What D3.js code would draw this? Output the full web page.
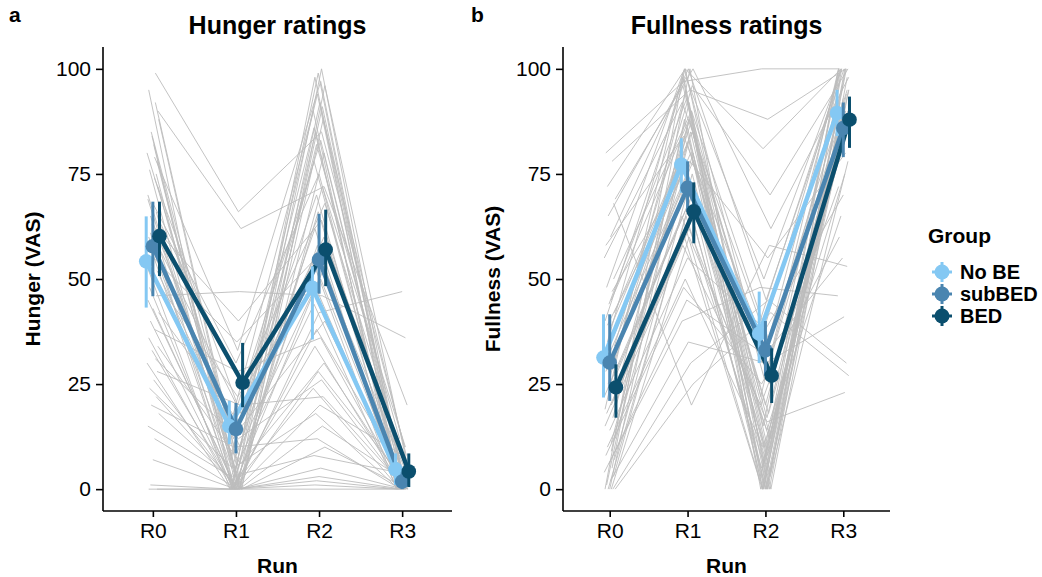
<!DOCTYPE html>
<html>
<head>
<meta charset="utf-8">
<script src="https://cdn.jsdelivr.net/npm/d3@7.9.0/dist/d3.min.js"></script>
<style>
  body { margin: 0; background: #fff; }
  svg text { font-family: "Liberation Sans", Arial, Helvetica, sans-serif; fill: #000; }
</style>
</head>
<body>
<svg id="chart" width="1042" height="577"></svg>
<script>
// Runs (x categories) and groups
const runs = ['R0', 'R1', 'R2', 'R3'];
const groups = ['No BE', 'subBED', 'BED'];
const groupColors = ['#84C8F3', '#4A85B0', '#0B4F6E'];
const yTicks = [0, 25, 50, 75, 100];

// Group means and error bar ranges, hunger (per run: R0..R3)
const hungerMean = {
  'No BE':  [54.2, 15.0, 47.9, 4.7],
  'subBED': [57.8, 14.3, 54.6, 1.8],
  'BED':    [60.2, 25.3, 57.0, 4.2]
};
const hungerLow = {
  'No BE':  [43.2, 10.7, 35.6, 1.0],
  'subBED': [45.9, 8.5, 46.5, 0.0],
  'BED':    [50.7, 19.5, 48.3, 0.5]
};
const hungerHigh = {
  'No BE':  [64.9, 21.0, 53.0, 8.5],
  'subBED': [68.4, 20.5, 65.5, 4.0],
  'BED':    [68.4, 34.8, 66.5, 8.5]
};

// Group means and error bar ranges, fullness
const fullMean = {
  'No BE':  [31.3, 77.2, 37.0, 89.5],
  'subBED': [30.1, 71.7, 33.0, 85.9],
  'BED':    [24.2, 66.1, 27.0, 87.9]
};
const fullLow = {
  'No BE':  [21.8, 70.5, 30.0, 84.0],
  'subBED': [21.0, 66.0, 27.0, 79.0],
  'BED':    [17.0, 58.5, 20.5, 81.2]
};
const fullHigh = {
  'No BE':  [41.6, 83.5, 47.0, 95.0],
  'subBED': [41.6, 78.0, 40.0, 92.0],
  'BED':    [29.7, 73.0, 33.5, 93.4]
};

// Individual participants (R0, R1, R2, R3)
const hungerSubjects = [
  [95, 0, 98, 2], [92, 5, 100, 0], [88, 0, 96, 5], [85, 10, 94, 0], [82, 0, 92, 3],
  [80, 15, 90, 0], [78, 0, 88, 8], [76, 2, 85, 0], [74, 20, 83, 2], [72, 0, 80, 0],
  [70, 8, 78, 5], [68, 30, 75, 0], [66, 0, 72, 10], [65, 12, 70, 0], [64, 25, 68, 3],
  [63, 0, 66, 0], [62, 40, 64, 2], [60, 5, 62, 0], [58, 18, 60, 6], [57, 0, 58, 0],
  [55, 35, 56, 1], [53, 0, 54, 0], [52, 10, 52, 4], [50, 22, 50, 0], [48, 0, 48, 2],
  [46, 47, 46, 36], [45, 3, 44, 0], [43, 0, 42, 47], [42, 15, 40, 0], [40, 0, 38, 5],
  [38, 28, 36, 0], [36, 0, 34, 2], [34, 6, 30, 0], [33, 0, 28, 3], [31, 12, 26, 0],
  [30, 0, 24, 1], [28, 20, 22, 0], [26, 0, 20, 8], [24, 5, 18, 0], [22, 0, 15, 2],
  [20, 10, 12, 0], [18, 0, 10, 0], [15, 3, 8, 4], [12, 0, 5, 0], [7, 0, 3, 0],
  [1, 0, 2, 0], [0, 0, 0, 0], [0, 0, 1, 0], [99, 66, 85, 10], [90, 62, 72, 20],
  [84, 4, 99, 1], [75, 0, 91, 0], [69, 7, 86, 3], [79, 33, 97, 0], [61, 0, 82, 12]
];
const fullnessSubjects = [
  [80, 97, 100, 100], [78, 95, 88, 100], [69, 100, 62, 98], [65, 98, 50, 100], [60, 100, 45, 100],
  [55, 92, 40, 97], [50, 90, 35, 95], [48, 100, 30, 100], [45, 88, 28, 92], [42, 85, 25, 90],
  [40, 96, 22, 100], [38, 82, 20, 88], [36, 80, 18, 85], [35, 100, 15, 100], [33, 78, 12, 95],
  [32, 75, 10, 82], [30, 88, 8, 90], [28, 72, 5, 80], [27, 70, 3, 78], [25, 95, 0, 100],
  [24, 68, 0, 88], [22, 65, 2, 85], [21, 90, 0, 98], [20, 62, 14, 75], [18, 60, 0, 92],
  [17, 85, 6, 100], [15, 58, 20, 72], [14, 55, 38, 70], [12, 80, 0, 95], [10, 50, 10, 65],
  [9, 92, 0, 100], [8, 48, 25, 60], [7, 75, 4, 90], [6, 45, 32, 55], [5, 100, 0, 100],
  [4, 40, 48, 46], [3, 70, 12, 88], [2, 35, 30, 41], [1, 88, 0, 97], [0, 30, 45, 30],
  [0, 65, 6, 84], [0, 25, 42, 27], [0, 98, 0, 100], [0, 60, 16, 23], [0, 86, 0, 93],
  [72, 100, 81, 100], [68, 20, 58, 53], [58, 84, 36, 99], [47, 78, 55, 80], [34, 96, 70, 100],
  [44, 93, 26, 96], [29, 87, 9, 94], [19, 99, 3, 100], [11, 83, 17, 91], [39, 76, 0, 86]
];
// small horizontal jitter per participant (in run units)
const jitter = [
  -0.05, 0.03, 0.07, -0.02, 0.01, -0.07, 0.05, -0.04, 0.02, 0.06,
  -0.06, 0.00, 0.04, -0.03, 0.07, -0.01, 0.03, -0.05, 0.06, -0.02,
  0.01, -0.07, 0.05, 0.02, -0.04, 0.04, -0.06, 0.00, 0.07, -0.03,
  0.02, -0.05, 0.06, -0.01, 0.03, -0.07, 0.05, 0.01, -0.04, 0.04,
  -0.02, 0.07, -0.06, 0.02, 0.00, -0.03, 0.05, -0.05, 0.03, 0.06,
  -0.01, 0.04, -0.06, 0.02, -0.03
];

const svg = d3.select('#chart');
svg.append('rect').attr('width', 1042).attr('height', 577).attr('fill', '#fff');

const plotTop = 47, plotBottom = 511;
const y = d3.scaleLinear().domain([-5.2, 105.2]).range([plotBottom, plotTop]);
const dodge = [-0.08, 0, 0.08];

function drawPanel(opts) {
  const { left, right, title, tag, tagX, ylab, subjects, mean, low, high } = opts;
  const g = svg.append('g');
  // continuous x over band index with ggplot-like 0.6 expansion
  const x = d3.scaleLinear().domain([-0.6, 3.6]).range([left, right]);

  // individual lines
  const line = d3.line().x(d => d[0]).y(d => d[1]);
  subjects.forEach((s, i) => {
    g.append('path')
      .attr('d', line(s.map((v, j) => [x(j + jitter[i]), y(v)])))
      .attr('fill', 'none')
      .attr('stroke', '#BDBDBD')
      .attr('stroke-width', 1)
      .attr('stroke-opacity', 0.9);
  });

  // group means: lines, error bars, points
  groups.forEach((grp, k) => {
    const pts = mean[grp].map((v, j) => [x(j + dodge[k]), y(v)]);
    g.append('path')
      .attr('d', line(pts))
      .attr('fill', 'none')
      .attr('stroke', groupColors[k])
      .attr('stroke-width', 4.5)
      .attr('stroke-linejoin', 'round');
  });
  groups.forEach((grp, k) => {
    runs.forEach((r, j) => {
      g.append('line')
        .attr('x1', x(j + dodge[k])).attr('x2', x(j + dodge[k]))
        .attr('y1', y(low[grp][j])).attr('y2', y(high[grp][j]))
        .attr('stroke', groupColors[k])
        .attr('stroke-width', 3);
    });
    g.selectAll(null)
      .data(mean[grp])
      .enter()
      .append('circle')
      .attr('cx', (d, j) => x(j + dodge[k]))
      .attr('cy', d => y(d))
      .attr('r', 7.3)
      .attr('fill', groupColors[k]);
  });

  // axes
  const yAxis = g.append('g')
    .attr('transform', `translate(${left},0)`)
    .call(d3.axisLeft(y).tickValues(yTicks).tickSize(7).tickPadding(5));
  const xAxis = g.append('g')
    .attr('transform', `translate(0,${plotBottom})`)
    .call(d3.axisBottom(x).tickValues([0, 1, 2, 3]).tickFormat(i => runs[i]).tickSize(6).tickPadding(6));
  [yAxis, xAxis].forEach(a => {
    a.select('.domain').attr('stroke', '#000').attr('stroke-width', 1.6);
    a.selectAll('.tick line').attr('stroke', '#000').attr('stroke-width', 1.6);
    a.selectAll('.tick text').attr('font-size', 21).attr('fill', '#000')
      .style('font-family', '"Liberation Sans", Arial, sans-serif');
  });
  yAxis.select('.domain').attr('d', `M0,${plotBottom}V${plotTop}`);
  xAxis.select('.domain').attr('d', `M${left},0H${right}`);

  // titles
  g.append('text')
    .attr('x', (left + right) / 2).attr('y', 34)
    .attr('text-anchor', 'middle')
    .attr('font-size', 25).attr('font-weight', 'bold')
    .text(title);
  g.append('text')
    .attr('x', tagX).attr('y', 22)
    .attr('font-size', 21).attr('font-weight', 'bold')
    .text(tag);
  g.append('text')
    .attr('x', (left + right) / 2).attr('y', 573)
    .attr('text-anchor', 'middle')
    .attr('font-size', 21).attr('font-weight', 'bold')
    .text('Run');
  g.append('text')
    .attr('transform', `translate(${left - 63},${(plotTop + plotBottom) / 2}) rotate(-90)`)
    .attr('text-anchor', 'middle')
    .attr('font-size', 21).attr('font-weight', 'bold')
    .text(ylab);
}

drawPanel({
  left: 103, right: 452, title: 'Hunger ratings', tag: 'a', tagX: 9,
  ylab: 'Hunger (VAS)', subjects: hungerSubjects,
  mean: hungerMean, low: hungerLow, high: hungerHigh
});
drawPanel({
  left: 563, right: 890, title: 'Fullness ratings', tag: 'b', tagX: 471,
  ylab: 'Fullness (VAS)', subjects: fullnessSubjects,
  mean: fullMean, low: fullLow, high: fullHigh
});

// legend
const legend = svg.append('g').attr('transform', 'translate(920,0)');
legend.append('text')
  .attr('x', 8).attr('y', 243)
  .attr('font-size', 21).attr('font-weight', 'bold')
  .text('Group');
const legendY = [272, 294, 316];
groups.forEach((grp, k) => {
  const cy = legendY[k];
  legend.append('line')
    .attr('x1', 12).attr('x2', 32).attr('y1', cy).attr('y2', cy)
    .attr('stroke', groupColors[k]).attr('stroke-width', 3);
  legend.append('line')
    .attr('x1', 22).attr('x2', 22).attr('y1', cy - 10).attr('y2', cy + 10)
    .attr('stroke', groupColors[k]).attr('stroke-width', 3);
  legend.append('circle')
    .attr('cx', 22).attr('cy', cy).attr('r', 7.5)
    .attr('fill', groupColors[k]);
  legend.append('text')
    .attr('x', 40).attr('y', cy + 7)
    .attr('font-size', 20).attr('font-weight', 'bold')
    .text(grp);
});
</script>
</body>
</html>
